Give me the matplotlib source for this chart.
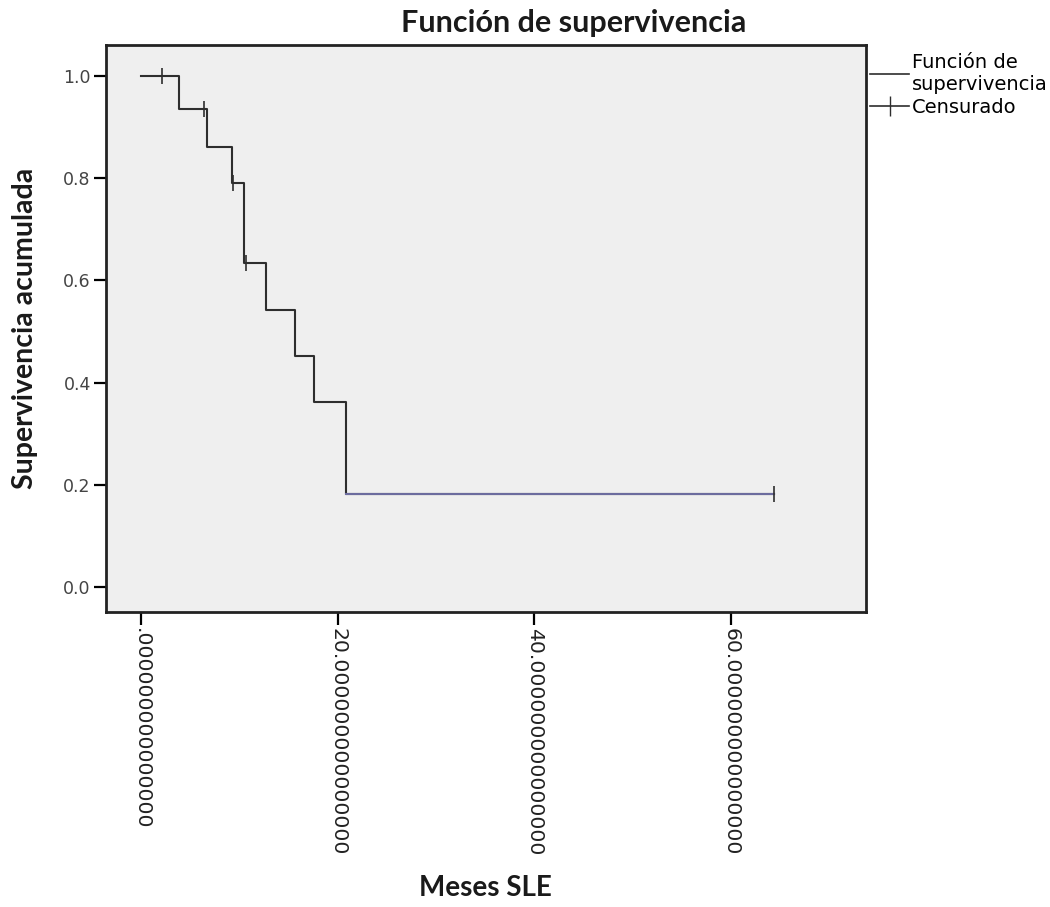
import matplotlib
matplotlib.use("Agg")
import matplotlib.pyplot as plt
from matplotlib.lines import Line2D

# Kaplan-Meier step values
step_times = [0, 3.9, 6.7, 9.3, 10.5, 12.7, 15.7, 17.6, 20.9, 64.4]
step_surv = [1.0, 0.934, 0.86, 0.79, 0.633, 0.542, 0.451, 0.362, 0.183, 0.183]

# censored observations
cens_times = [2.1, 6.4, 9.4, 10.7, 64.4]
cens_surv = [1.0, 0.934, 0.79, 0.633, 0.183]

x_ticks = [0, 20, 40, 60]
x_ticklabels = [".000000000000000", "20.000000000000000",
                "40.000000000000000", "60.000000000000000"]
y_ticks = [0.0, 0.2, 0.4, 0.6, 0.8, 1.0]

plt.rcParams['font.family'] = ['DejaVu Sans']

fig = plt.figure(figsize=(10.5, 9.07), dpi=100)
ax = fig.add_axes([0.101, 0.325, 0.724, 0.625])
ax.set_facecolor('#efefef')

line_col = '#2e2e2e'
ax.step(step_times, step_surv, where='post', color=line_col, lw=1.5)
# last horizontal piece has a bluish tint in the original
ax.plot(step_times[-2:], step_surv[-2:], color='#6c6c9e', lw=1.5)
ax.plot(cens_times, cens_surv, ls='none', marker='|', ms=12, mew=1.2, color=line_col)

ax.set_xlim(-3.56, 73.8)
ax.set_ylim(-0.049, 1.059)
ax.set_xticks(x_ticks)
ax.set_xticklabels(x_ticklabels, rotation=270, fontsize=14.7, color='#222222')
ax.set_yticks(y_ticks)
ax.set_yticklabels([f"{v:.1f}" for v in y_ticks], fontsize=12.5, color='#444444')
ax.tick_params(direction='out', length=9, width=1.6, pad=2)

for s in ax.spines.values():
    s.set_linewidth(2)
    s.set_color('#222222')

title_font = dict(family=['Lato', 'DejaVu Sans'], fontweight='bold', color='#1a1a1a')
fig.text(0.546, 0.975, "Función de supervivencia", ha='center', va='center',
         fontsize=22, **title_font)
fig.text(0.462, 0.021, "Meses SLE", ha='center', va='center',
         fontsize=20, **title_font)
fig.text(0.024, 0.638, "Supervivencia acumulada", ha='center', va='center',
         rotation=90, fontsize=20.5, **title_font)

handles = [Line2D([], [], color=line_col, lw=1.2),
           Line2D([], [], color=line_col, lw=1.2, marker='|', ms=14)]
ax.legend(handles, ["Función de\nsupervivencia", "Censurado"],
          loc='upper left', bbox_to_anchor=(1.0, 0.993), frameon=False,
          fontsize=14, handlelength=2.0, handletextpad=0.15,
          borderaxespad=0.0, borderpad=0.2, labelspacing=0.2)

fig.savefig("out.png", dpi=100, facecolor='white')
